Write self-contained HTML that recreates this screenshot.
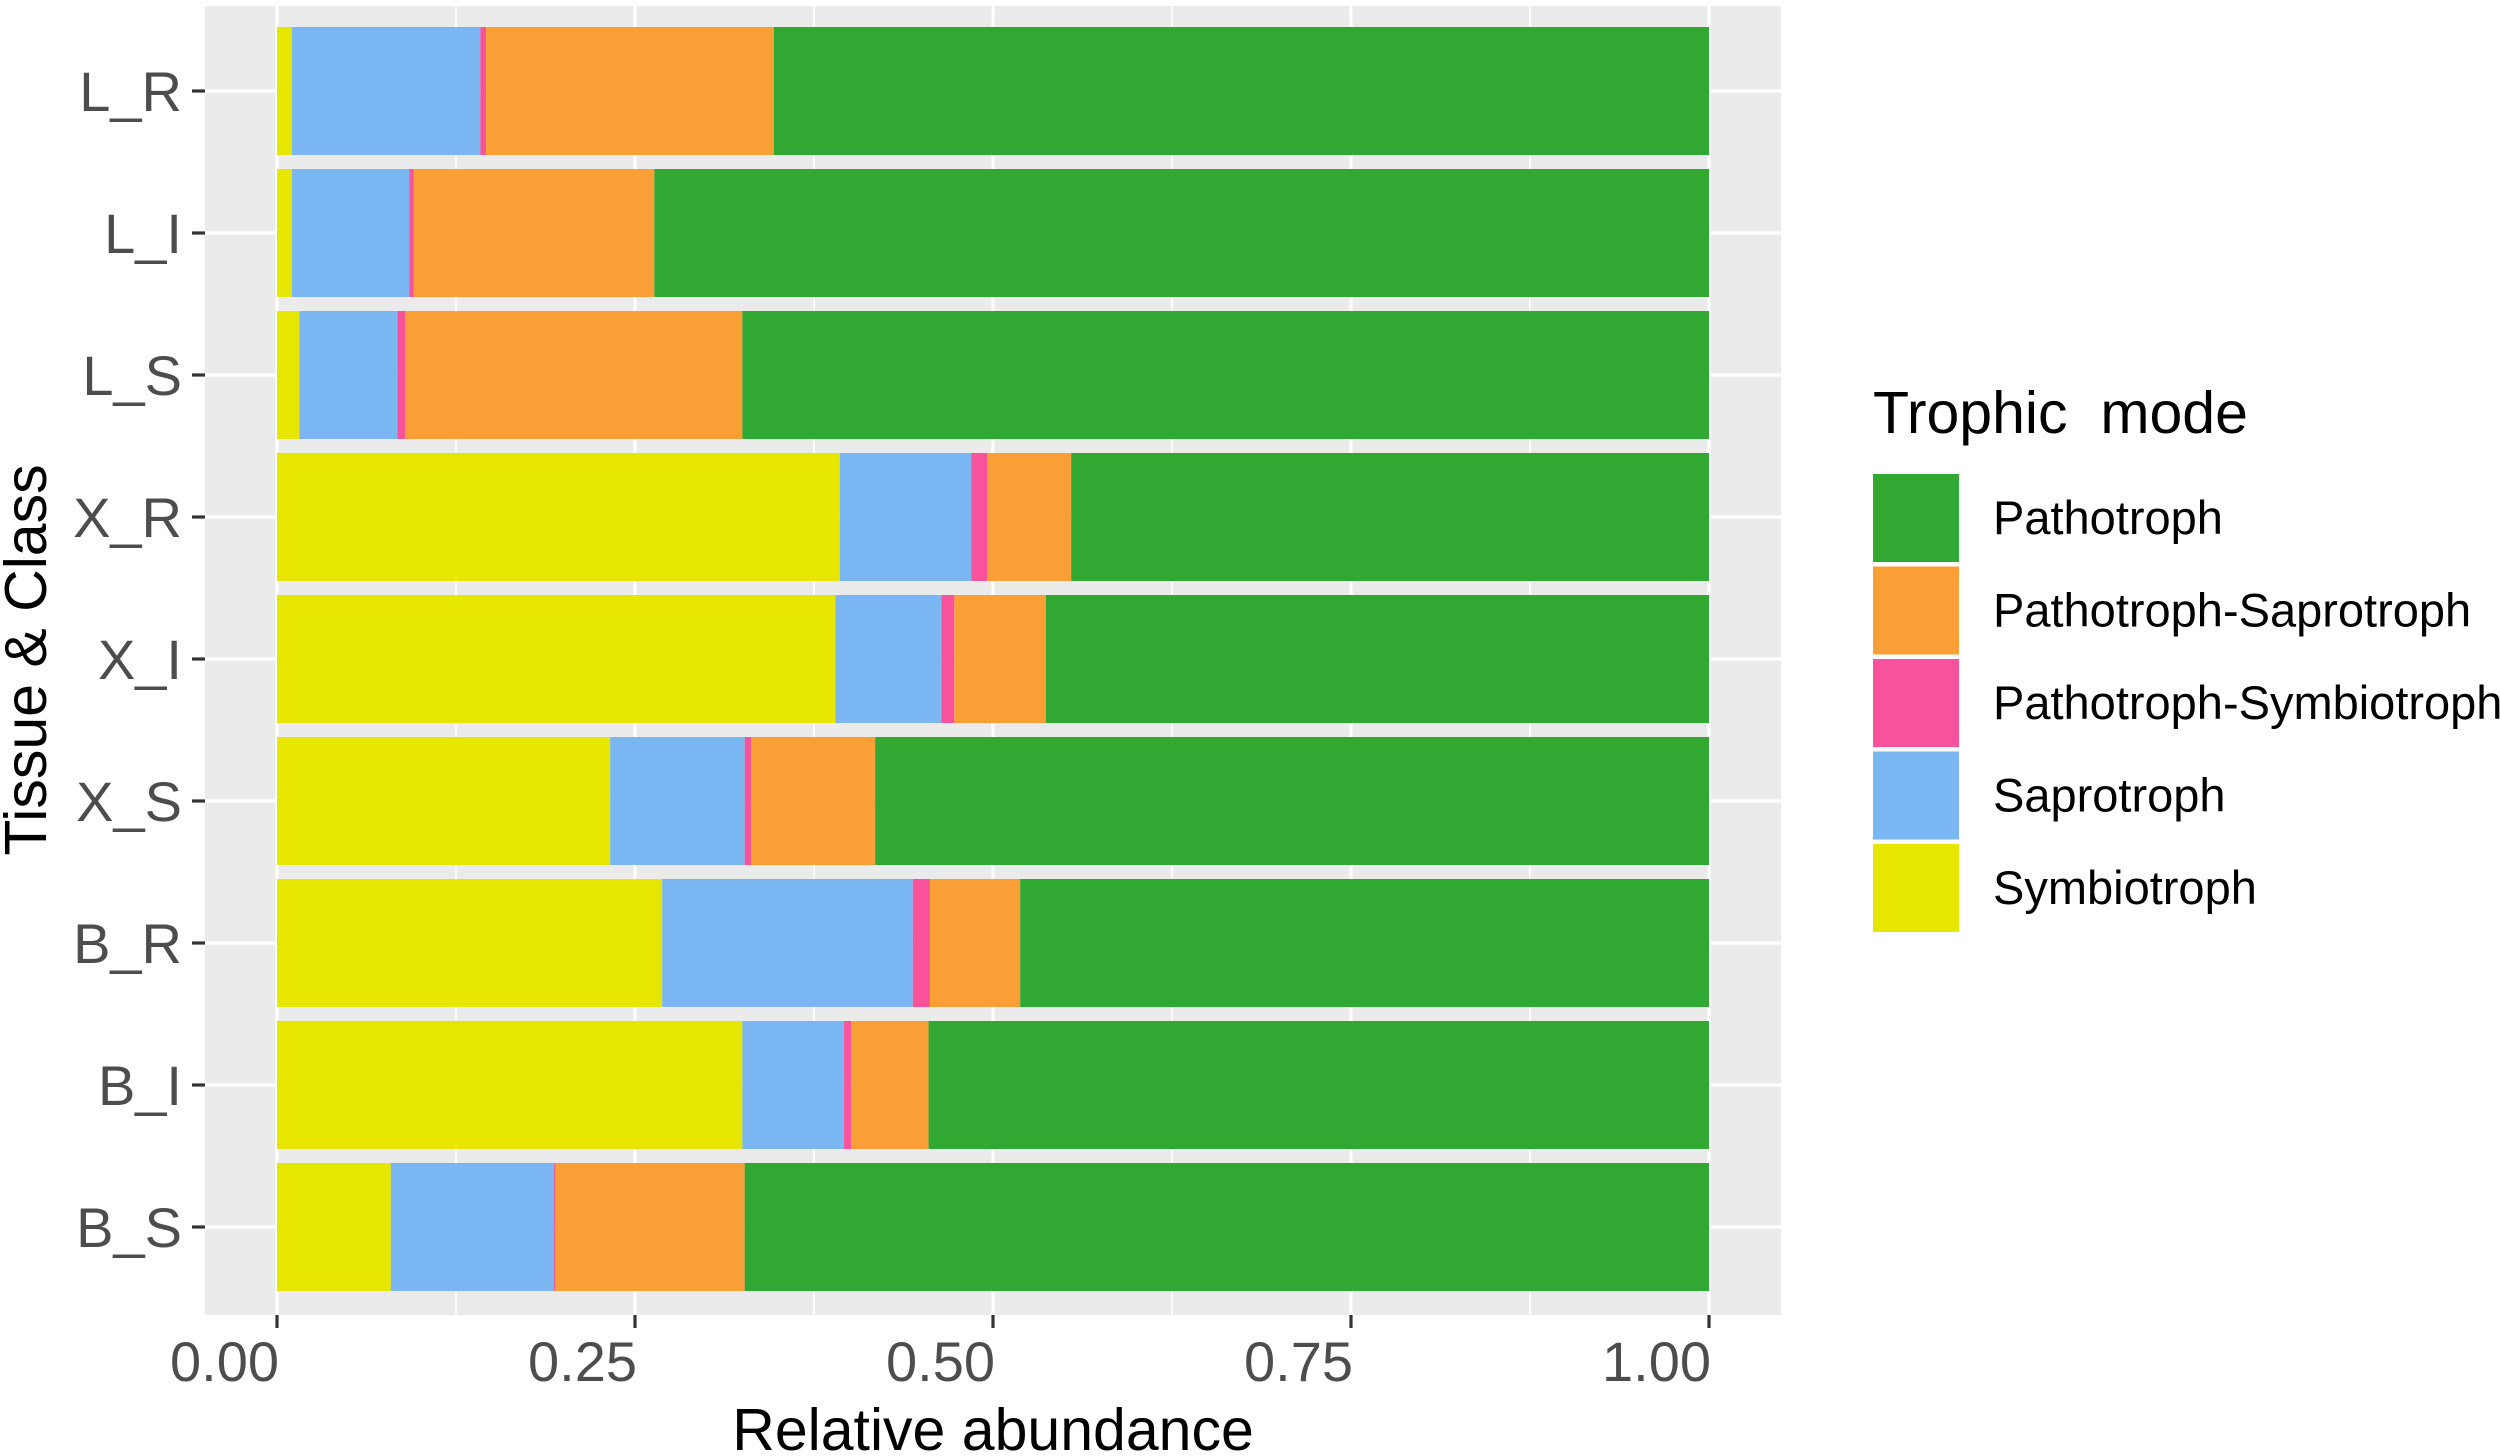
<!DOCTYPE html>
<html><head><meta charset="utf-8">
<style>
html,body{margin:0;padding:0;background:#fff;}
svg{display:block;font-family:"Liberation Sans",Arial,sans-serif;}
</style></head>
<body>
<svg id="chart" width="2500" height="1456" viewBox="0 0 2500 1456" xmlns="http://www.w3.org/2000/svg">
  <rect x="0" y="0" width="2500" height="1456" fill="#ffffff"/>
  <rect x="205" y="6" width="1576" height="1309" fill="#EBEBEB"/>
  <g id="grid"></g>
  <g id="bars"></g>
  <g id="axes"></g>
  <text x="993" y="1450" font-size="59" text-anchor="middle" fill="#000">Relative abundance</text>
  <text transform="translate(46,660) rotate(-90)" font-size="59" text-anchor="middle" fill="#000">Tissue &amp; Class</text>
  <g id="legend"></g>
</svg>
<script>
const categories = ["L_R","L_I","L_S","X_R","X_I","X_S","B_R","B_I","B_S"];
const symbiotroph = [0.0105,0.0105,0.0156,0.393,0.390,0.2327,0.269,0.325,0.0795];
const saprotroph = [0.1315,0.082,0.0684,0.092,0.074,0.0939,0.175,0.071,0.114];
const pathoSymbio = [0.004,0.003,0.0054,0.011,0.009,0.0044,0.012,0.005,0.0009];
const pathoSapro = [0.201,0.168,0.2356,0.0586,0.064,0.0867,0.063,0.054,0.1322];
const pathotroph = [0.653,0.7364,0.675,0.4454,0.463,0.5823,0.481,0.545,0.6734];
const xTicks = [0,0.25,0.5,0.75,1];
const xTickLabels = ["0.00","0.25","0.50","0.75","1.00"];
const seriesNames = ["Pathotroph","Pathotroph-Saprotroph","Pathotroph-Symbiotroph","Saprotroph","Symbiotroph"];

const NS="http://www.w3.org/2000/svg";
const X0=277, X1=1709, PL=205, PR=1781, PT=6, PB=1315;
const Y0=91, STEP=142, BH=128;
function xs(v){return X0+v*(X1-X0);}
function ys(i){return Y0+i*STEP;}
function mk(tag,attrs,parent){const e=document.createElementNS(NS,tag);for(const k in attrs)e.setAttribute(k,attrs[k]);parent.appendChild(e);return e;}

const grid=document.getElementById('grid');
for(let i=0;i<xTicks.length-1;i++){
  const v=(xTicks[i]+xTicks[i+1])/2;
  const l=mk('line',{x1:xs(v),x2:xs(v),y1:PT,y2:PB,stroke:'#fff','stroke-width':1.6},grid);
  
  
}
xTicks.forEach(v=>{
  const l=mk('line',{x1:xs(v),x2:xs(v),y1:PT,y2:PB,stroke:'#fff','stroke-width':3.2},grid);
  
  
});
categories.forEach((c,i)=>{
  const l=mk('line',{x1:PL,x2:PR,y1:ys(i),y2:ys(i),stroke:'#fff','stroke-width':3.2},grid);
  
  
});

const colors={sym:'#E6E600',sap:'#7AB6F2',psym:'#F7529B',psap:'#F99F35',path:'#31A832'};
const bars=document.getElementById('bars');
categories.forEach((c,i)=>{
  const segs=[['symbiotroph',symbiotroph[i],colors.sym],['saprotroph',saprotroph[i],colors.sap],['pathotroph-symbiotroph',pathoSymbio[i],colors.psym],['pathotroph-saprotroph',pathoSapro[i],colors.psap],['pathotroph',pathotroph[i],colors.path]];
  const total=segs.reduce((a,s)=>a+s[1],0);
  let acc=0;
  segs.forEach(s=>{
    const a=acc/total, b=(acc+s[1])/total;
    const r=mk('rect',{x:xs(a),y:ys(i)-BH/2,width:Math.max(0,xs(b)-xs(a)),height:BH,fill:s[2]},bars);
    
    
    acc+=s[1];
  });
});

const axes=document.getElementById('axes');
xTicks.forEach((v,i)=>{
  const t=mk('line',{x1:xs(v),x2:xs(v),y1:PB,y2:PB+13,stroke:'#333','stroke-width':3.2},axes);
  
  
  const tx=mk('text',{x:xs(v)+2,y:1381,'font-size':56,'text-anchor':'end',fill:'#4D4D4D'},axes);
  tx.textContent=xTickLabels[i];
  
  
});
categories.forEach((c,i)=>{
  const t=mk('line',{x1:PL-13,x2:PL,y1:ys(i),y2:ys(i),stroke:'#333','stroke-width':3.2},axes);
  
  
  const tx=mk('text',{x:182,y:ys(i)+20,'font-size':56,'text-anchor':'end',fill:'#4D4D4D'},axes);
  tx.textContent=c;
  
  
});

const legend=document.getElementById('legend');
const lt=mk('text',{x:1873,y:433,'font-size':59,fill:'#000'},legend);
lt.textContent="Trophic\u00a0\u00a0mode";


const legColors=[colors.path,colors.psap,colors.psym,colors.sap,colors.sym];
seriesNames.forEach((n,i)=>{
  const cy=518+i*92.5;
  const r=mk('rect',{x:1873,y:cy-44,width:86,height:88,fill:legColors[i]},legend);
  
  
  const t=mk('text',{x:1993,y:cy+16,'font-size':47,fill:'#000'},legend);
  t.textContent=n;
  
  
});
</script>
</body></html>
